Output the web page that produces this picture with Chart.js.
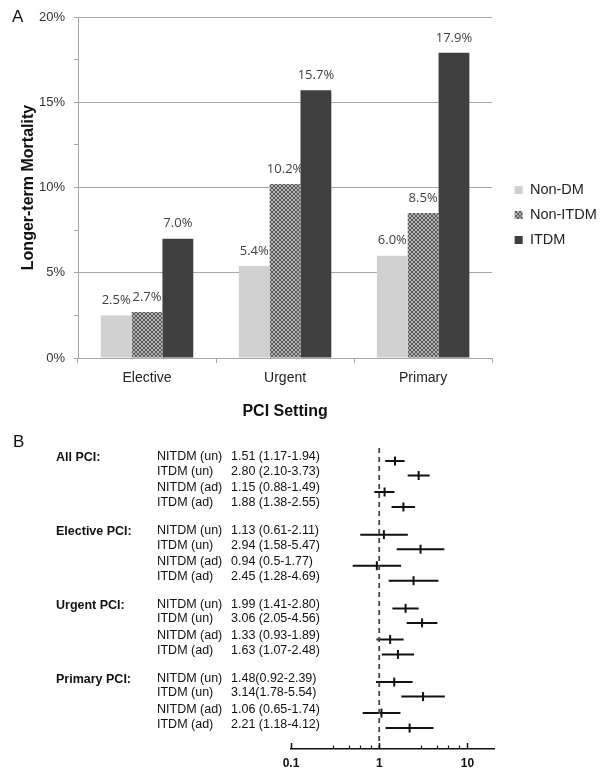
<!DOCTYPE html>
<html><head><meta charset="utf-8">
<script src="https://cdn.jsdelivr.net/npm/chart.js@4.4.1/dist/chart.umd.min.js"></script>
<style>
html,body{margin:0;padding:0;background:#fff;}
#wrap{position:relative;width:605px;height:772px;overflow:hidden;}
#cA{position:absolute;left:0;top:0;}
#cB{position:absolute;left:0;top:430px;}
</style></head><body>
<div id="wrap">
<canvas id="cA" width="605" height="430"></canvas>
<canvas id="cB" width="605" height="342"></canvas>
</div>
<script>
// ---------- Panel A data ----------
const settings = ['Elective', 'Urgent', 'Primary'];
const seriesNames = ['Non-DM', 'Non-ITDM', 'ITDM'];
const nonDM = [2.5, 5.4, 6.0];
const nonITDM = [2.7, 10.2, 8.5];
const itdm = [7.0, 15.7, 17.9];

// ---------- Panel B data ----------
const groupNames = ['All PCI:', 'Elective PCI:', 'Urgent PCI:', 'Primary PCI:'];
const rowNames = ['NITDM (un)', 'ITDM (un)', 'NITDM (ad)', 'ITDM (ad)'];
const hr = [1.51, 2.80, 1.15, 1.88, 1.13, 2.94, 0.94, 2.45, 1.99, 3.06, 1.33, 1.63, 1.48, 3.14, 1.06, 2.21];
const lo = [1.17, 2.10, 0.88, 1.38, 0.61, 1.58, 0.5, 1.28, 1.41, 2.05, 0.93, 1.07, 0.92, 1.78, 0.65, 1.18];
const hi = [1.94, 3.73, 1.49, 2.55, 2.11, 5.47, 1.77, 4.69, 2.80, 4.56, 1.89, 2.48, 2.39, 5.54, 1.74, 4.12];
const ciText = ['1.51 (1.17-1.94)', '2.80 (2.10-3.73)', '1.15 (0.88-1.49)', '1.88 (1.38-2.55)',
  '1.13 (0.61-2.11)', '2.94 (1.58-5.47)', '0.94 (0.5-1.77)', '2.45 (1.28-4.69)',
  '1.99 (1.41-2.80)', '3.06 (2.05-4.56)', '1.33 (0.93-1.89)', '1.63 (1.07-2.48)',
  '1.48(0.92-2.39)', '3.14(1.78-5.54)', '1.06 (0.65-1.74)', '2.21 (1.18-4.12)'];
const majorTicks = [0.1, 1, 10];
const minorTicks = [0.3, 0.45, 0.6, 0.8, 3, 4.5, 6, 8];
const refValue = 1;

const F = "'Liberation Sans', Arial, sans-serif";

// ---------- Panel A ----------
const cA = document.getElementById('cA');
const ctxA = cA.getContext('2d');
function makeHatch() {
  const c = document.createElement('canvas'); c.width = 4; c.height = 4;
  const x = c.getContext('2d');
  x.fillStyle = '#b2b2b2'; x.fillRect(0, 0, 4, 4);
  x.fillStyle = '#5a5a5a';
  for (let i = 0; i < 4; i++) { x.fillRect(i, i, 1, 1); x.fillRect(3 - i, i, 1, 1); }
  return ctxA.createPattern(c, 'repeat');
}
const hatch = makeHatch();
const GRID = '#a6a6a6';

const labelsA = {
  id: 'labelsA',
  afterDatasetsDraw(chart) {
    const ctx = chart.ctx;
    ctx.save();
    ctx.font = "13px 'Open Sans', sans-serif";
    ctx.fillStyle = '#404040';
    ctx.textAlign = 'center';
    ctx.textBaseline = 'middle';
    chart.data.datasets.forEach((ds, i) => {
      chart.getDatasetMeta(i).data.forEach((el, j) => {
        ctx.fillText(ds.data[j].toFixed(1) + '%', el.x, el.y - 15);
      });
    });
    ctx.font = '17px ' + F;
    ctx.fillStyle = '#111';
    ctx.textAlign = 'left';
    ctx.fillText('A', 12, 17);
    ctx.restore();
  }
};

new Chart(cA, {
  type: 'bar',
  data: {
    labels: settings,
    datasets: [
      { label: seriesNames[0], data: nonDM, backgroundColor: '#d0d0d0' },
      { label: seriesNames[1], data: nonITDM, backgroundColor: hatch },
      { label: seriesNames[2], data: itdm, backgroundColor: '#3f3f3f' }
    ]
  },
  options: {
    responsive: false, animation: false,
    layout: { padding: { top: 0, left: 0, right: 0, bottom: 0 } },
    datasets: { bar: { categoryPercentage: 0.67, barPercentage: 1 } },
    plugins: {
      legend: {
        position: 'right', align: 'center',
        labels: { boxWidth: 8, boxHeight: 8, padding: 10.5, color: '#222', font: { size: 14.5, family: F } }
      },
      tooltip: { enabled: false }
    },
    scales: {
      x: {
        grid: { offset: true, drawOnChartArea: false, drawTicks: true, tickLength: 5, tickColor: GRID },
        border: { color: GRID },
        ticks: { font: { size: 14, family: F }, color: '#222', padding: 6.6 },
        title: { display: true, text: 'PCI Setting', color: '#111', font: { size: 16, weight: 'bold', family: F }, padding: { top: 0, bottom: 8.4 } },
        afterFit(s) { s.height = 72; }
      },
      xTop: {
        type: 'linear', position: 'top', display: true,
        grid: { display: false }, ticks: { display: false }, border: { display: false },
        afterFit(s) { s.height = 17; }
      },
      y: {
        min: 0, max: 20,
        ticks: { stepSize: 2.5, callback: v => (v % 5 === 0 ? v + '%' : ''), font: { size: 13, family: F }, color: '#333', padding: 9 },
        grid: { color: c => (c.tick && c.tick.value % 5 === 0 ? GRID : 'rgba(0,0,0,0)'), tickLength: 4, tickColor: GRID },
        border: { color: GRID },
        title: { display: true, text: 'Longer-term Mortality', color: '#111', font: { size: 16, weight: 'bold', family: F }, padding: { top: 18.5, bottom: 0 } },
        afterFit(s) { s.width = 78; }
      },
      yRight: {
        type: 'linear', position: 'right', display: true,
        grid: { display: false }, ticks: { display: false }, border: { display: false },
        afterFit(s) { s.width = 12; }
      }
    }
  },
  plugins: [labelsA]
});

// ---------- Panel B ----------
// layout of rows (in px-like units of the hidden y scale)
const GROUP_STEP = 73.7;
const ROW_OFFSETS = [0, 14.5, 31, 46];
const rowY = hr.map((_, i) => Math.floor(i / 4) * GROUP_STEP + ROW_OFFSETS[i % 4]);
const Y_MIN = -21, Y_MAX = 288, REF_TOP = -13;

const ciData = [];
hr.forEach((_, i) => {
  ciData.push({ x: lo[i], y: rowY[i] }, { x: hi[i], y: rowY[i] }, { x: null, y: null });
});
const pointData = hr.map((v, i) => ({ x: v, y: rowY[i] }));

const textB = {
  id: 'textB',
  afterDraw(chart) {
    const ctx = chart.ctx;
    const ys = chart.scales.y, xs = chart.scales.x;
    ctx.save();
    ctx.textBaseline = 'middle';
    ctx.textAlign = 'left';
    ctx.fillStyle = '#111';
    ctx.font = '12.5px ' + F;
    hr.forEach((_, i) => {
      const py = ys.getPixelForValue(rowY[i]) - 4;
      ctx.fillText(rowNames[i % 4], 157, py);
      ctx.fillText(ciText[i], 231, py);
    });
    ctx.font = 'bold 12.5px ' + F;
    groupNames.forEach((g, k) => {
      const py = ys.getPixelForValue(rowY[k * 4]) - 3;
      ctx.fillText(g, 56, py);
    });
    ctx.font = '17px ' + F;
    ctx.fillStyle = '#111';
    ctx.fillText('B', 13, 12);
    // upward tick marks on the log axis
    const ay = xs.top;
    ctx.strokeStyle = '#111';
    ctx.lineWidth = 1.5;
    majorTicks.forEach(v => {
      const px = Math.round(xs.getPixelForValue(v)) + 0.5;
      ctx.beginPath(); ctx.moveTo(px, ay); ctx.lineTo(px, ay - 6); ctx.stroke();
    });
    ctx.lineWidth = 1.2;
    minorTicks.forEach(v => {
      const px = Math.round(xs.getPixelForValue(v)) + 0.5;
      ctx.beginPath(); ctx.moveTo(px, ay); ctx.lineTo(px, ay - 3.5); ctx.stroke();
    });
    ctx.restore();
  }
};

new Chart(document.getElementById('cB'), {
  type: 'scatter',
  data: {
    datasets: [
      { data: [{ x: refValue, y: REF_TOP }, { x: refValue, y: Y_MAX }], showLine: true, borderColor: '#444', borderWidth: 1.8, borderDash: [5, 4], pointRadius: 0 },
      { data: ciData, showLine: true, spanGaps: false, borderColor: '#111', borderWidth: 2, pointRadius: 0 },
      { data: pointData, showLine: false, pointStyle: 'line', rotation: 90, pointRadius: 4.5, pointBorderWidth: 2, borderColor: '#111', pointBorderColor: '#111' }
    ]
  },
  options: {
    responsive: false, animation: false,
    layout: { padding: { left: 291, right: 111, top: 10, bottom: 0 } },
    plugins: { legend: { display: false }, tooltip: { enabled: false } },
    scales: {
      x: {
        type: 'logarithmic', min: 0.1, max: 20, position: 'bottom',
        grid: { display: true, drawOnChartArea: false, drawTicks: false },
        border: { display: true, color: '#111', width: 1.5 },
        ticks: {
          autoSkip: false, maxRotation: 0, padding: 7, color: '#111',
          font: { size: 12, weight: 'bold', family: F },
          callback: v => (majorTicks.some(m => Math.abs(m - v) < 1e-9) ? String(v) : '')
        },
        afterFit(s) { s.height = 23; }
      },
      y: { type: 'linear', display: false, min: Y_MIN, max: Y_MAX, reverse: true }
    }
  },
  plugins: [textB]
});
</script>
</body></html>
